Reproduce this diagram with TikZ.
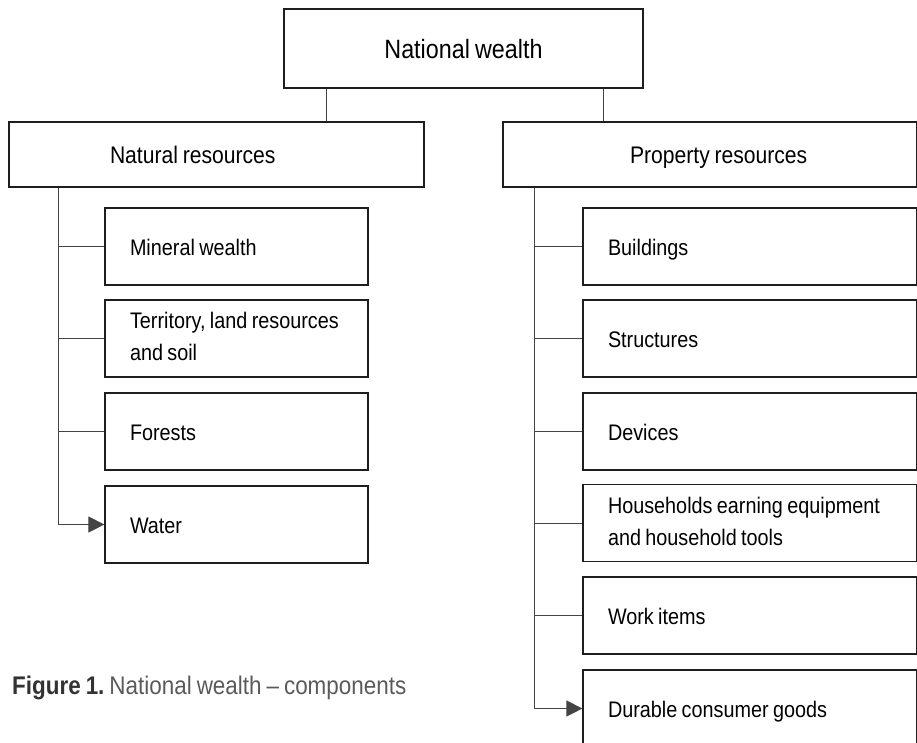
\documentclass[tikz,border=0pt]{standalone}
\usepackage{fontspec}
\setmainfont{Liberation Sans}[FakeStretch=0.88,WordSpace=0.8]
\usetikzlibrary{arrows.meta}
\definecolor{boxline}{HTML}{1E1E1E}
\definecolor{connline}{HTML}{444444}
\definecolor{capdark}{HTML}{333333}
\definecolor{caplight}{HTML}{5A5A5A}
\begin{document}
\begin{tikzpicture}[x=1pt,y=-1pt,
  basebox/.style={draw=boxline, line width=1.2pt, rectangle, inner ysep=0pt, fill=white,
    execute at begin node={\spaceskip=0pt\xspaceskip=0pt}},
  headbox/.style={basebox, font=\fontsize{24}{28}\selectfont, inner xsep=0pt, align=left, text height=17pt, text depth=0pt},
  leaf/.style={basebox, font=\fontsize{22.5}{32}\selectfont, inner xsep=25pt, align=left, minimum height=77pt},
  one/.style={text height=17pt, text depth=0pt},
  leafL/.style={leaf, minimum width=263pt, text width=213pt},
  leafR/.style={leaf, minimum width=333.5pt, text width=283.5pt},
  conn/.style={draw=connline, line width=1pt},
  arr/.style={conn, -{Triangle[length=16pt,width=16pt]}}
]
\useasboundingbox (0,0) rectangle (917,742);
\clip (0,0) rectangle (917,742);

% top
\node[headbox, align=center, font=\fontsize{26.5}{30}\selectfont, text height=19pt, minimum width=359pt, minimum height=79pt] (top) at (463.5,48.5) {National wealth};
\node[headbox, text width=415pt, minimum height=65pt] (nat) at (216.5,154.5) {\hspace*{101pt}Natural resources};
\node[headbox, text width=413.5pt, minimum height=65pt] (prop) at (709.75,154.5) {\hspace*{127pt}Property resources};

\coordinate (xL) at (326,0);
\coordinate (xR) at (603,0);
\draw[conn] (top.south -| xL) -- (nat.north -| xL);
\draw[conn] (top.south -| xR) -- (prop.north -| xR);

% left children
\node[leafL, one] (l1) at (236.5,246.5) {Mineral wealth};
\node[leafL] (l2) at (236.5,338.5) {\strut\mbox{Territory, land resources}\\and soil\strut};
\node[leafL, one] (l3) at (236.5,431.5) {Forests};
\node[leafL, one] (l4) at (236.5,524.5) {Water};

\coordinate (tL) at (58,0);
\draw[conn] (nat.south -| tL) |- (l1.west);
\draw[conn] (nat.south -| tL) |- (l2.west);
\draw[conn] (nat.south -| tL) |- (l3.west);
\draw[arr] (nat.south -| tL) |- (l4.west);

% right children
\node[leafR, one] (r1) at (749.75,246.5) {Buildings};
\node[leafR, one] (r2) at (749.75,338.5) {Structures};
\node[leafR, one] (r3) at (749.75,431.5) {Devices};
\node[leafR] (r4) at (749.75,523) {\strut\mbox{Households earning equipment}\\and household tools\strut};
\node[leafR, one] (r5) at (749.75,615.5) {Work items};
\node[leafR, one] (r6) at (749.75,708.5) {Durable consumer goods};

\coordinate (tR) at (534,0);
\draw[conn] (prop.south -| tR) |- (r1.west);
\draw[conn] (prop.south -| tR) |- (r2.west);
\draw[conn] (prop.south -| tR) |- (r3.west);
\draw[conn] (prop.south -| tR) |- (r4.west);
\draw[conn] (prop.south -| tR) |- (r5.west);
\draw[arr] (prop.south -| tR) |- (r6.west);

% caption
\node[anchor=base west, inner sep=0pt, font=\fontsize{25.5}{30}\selectfont] (cap) at (12,694)
  {\textcolor{capdark}{\bfseries Figure 1.}\ \textcolor{caplight}{National wealth – components}};
\end{tikzpicture}
\end{document}
